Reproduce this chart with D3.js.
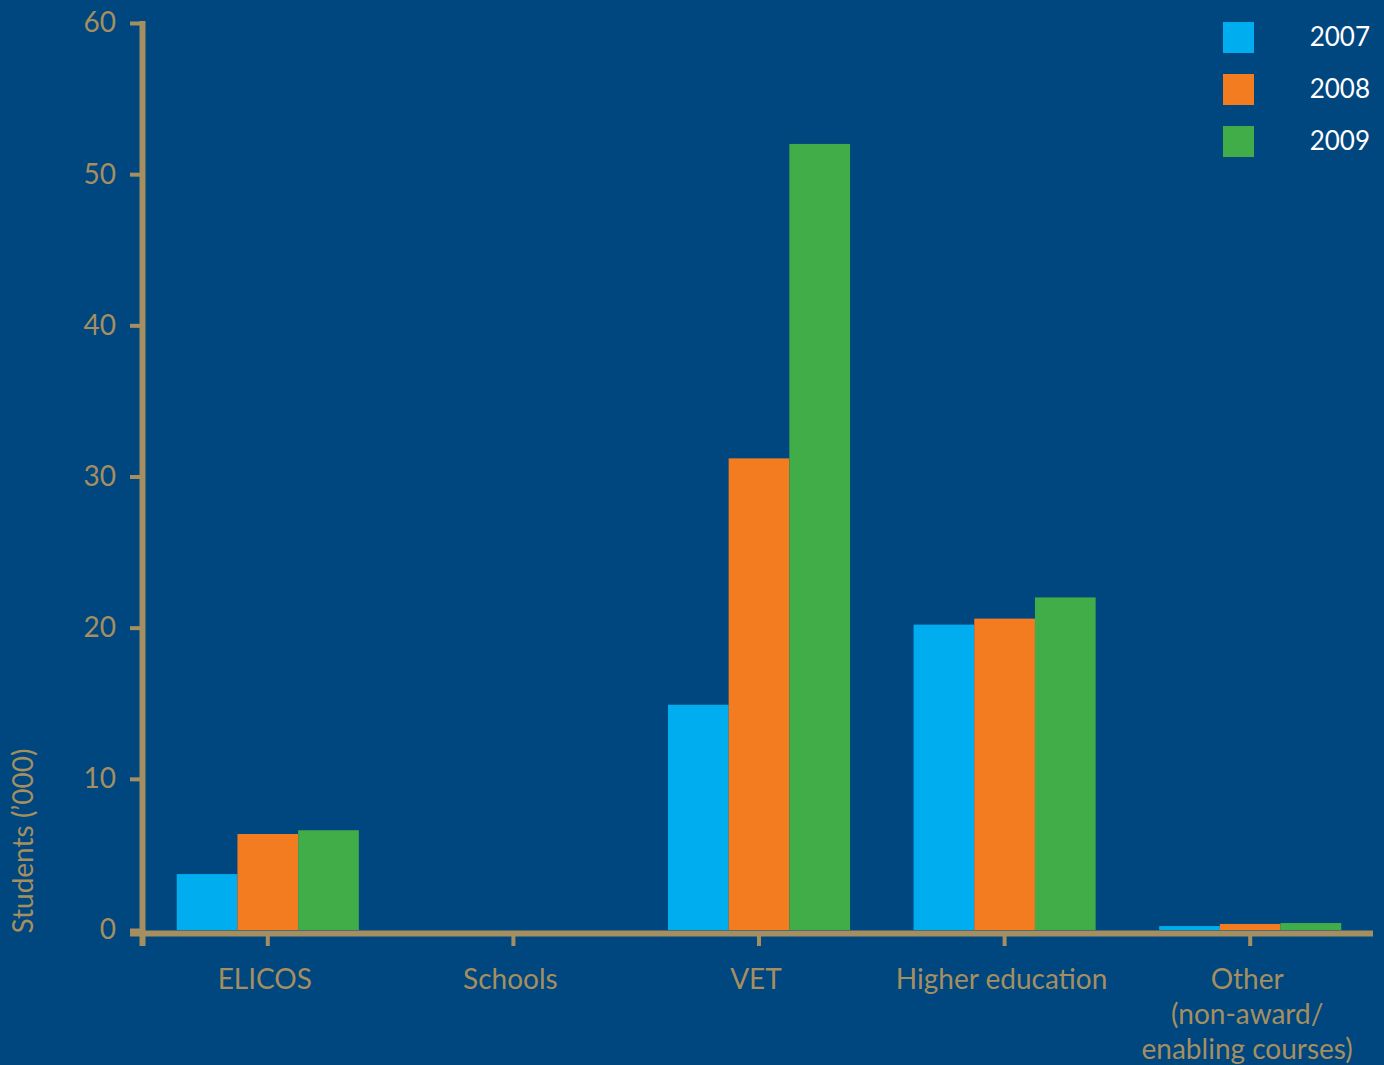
<!DOCTYPE html>
<html><head><meta charset="utf-8">
<script src="https://cdn.jsdelivr.net/npm/d3@7"></script>
<style>html,body{margin:0;padding:0;background:#00467f;}svg{display:block;}</style>
</head><body>
<script>
const categories = ["ELICOS", "Schools", "VET", "Higher education", "Other\n(non-award/\nenabling courses)"];
const years = ["2007", "2008", "2009"];
const values2007 = [3.7, 0, 14.9, 20.2, 0.26];
const values2008 = [6.35, 0, 31.2, 20.6, 0.4];
const values2009 = [6.6, 0, 52.0, 22.0, 0.46];
const yTicks = [0, 10, 20, 30, 40, 50, 60];
const colors = ["#00aeef", "#f47c20", "#41ad49"];
const series = [values2007, values2008, values2009];

const W = 1384, H = 1065;
const tan = "#a58f60";
const font = "Lato, 'Open Sans', sans-serif";
const svg = d3.select("body").append("svg").attr("width", W).attr("height", H);
svg.append("rect").attr("width", W).attr("height", H).attr("fill", "#00467f");

const y = d3.scaleLinear().domain([0, 60]).range([930, 23]);
const x0 = d3.scaleBand().domain(categories).range([145, 1373]).padding(0);
const x1 = d3.scaleBand().domain(years).range([0, x0.bandwidth()]).paddingInner(0).paddingOuter(0.523);
const color = d3.scaleOrdinal().domain(years).range(colors);

// bars
const g = svg.append("g");
categories.forEach((c, i) => {
  years.forEach((yr, j) => {
    const v = series[j][i];
    g.append("rect")
      .attr("x", x0(c) + x1(yr))
      .attr("width", x1.bandwidth())
      .attr("y", y(v))
      .attr("height", y(0) - y(v))
      .attr("fill", color(yr));
  });
});

// y axis
const yAxis = d3.axisLeft(y).tickValues(yTicks).tickSize(13).tickPadding(14);
const ya = svg.append("g").attr("transform", "translate(143,0)").call(yAxis);
ya.select(".domain").remove();
ya.selectAll(".tick line").attr("stroke", tan).attr("stroke-width", 4);
ya.selectAll(".tick text").attr("fill", tan).style("font-family", font).style("font-size", "28px");
svg.append("line").attr("x1", 142.5).attr("x2", 142.5).attr("y1", 21).attr("y2", 946)
  .attr("stroke", tan).attr("stroke-width", 6);

// x axis
const xAxis = d3.axisBottom(x0).tickSize(13).tickFormat("");
const xa = svg.append("g").attr("transform", "translate(0,933)").call(xAxis);
xa.select(".domain").remove();
xa.selectAll(".tick line").attr("stroke", tan).attr("stroke-width", 4);
svg.append("line").attr("x1", 130).attr("x2", 1373).attr("y1", 933.5).attr("y2", 933.5)
  .attr("stroke", tan).attr("stroke-width", 6);

// category labels
categories.forEach(c => {
  const lines = c.split("\n");
  const t = svg.append("text").attr("text-anchor", "middle")
    .attr("fill", tan).style("font-family", font).style("font-size", "28px");
  lines.forEach((l, k) => {
    t.append("tspan").attr("x", x0(c) + x0.bandwidth() / 2 - 3).attr("y", 989 + k * 35).text(l);
  });
});

// y title
svg.append("text").attr("transform", "translate(33,841) rotate(-90)")
  .attr("text-anchor", "middle").attr("fill", tan)
  .style("font-family", font).style("font-size", "28px").text("Students (\u2019000)");

// legend
years.forEach((yr, j) => {
  svg.append("rect").attr("x", 1223).attr("y", 22 + j * 52).attr("width", 31).attr("height", 31).attr("fill", color(yr));
  svg.append("text").attr("x", 1370).attr("y", 46 + j * 52).attr("text-anchor", "end")
    .attr("fill", "#ffffff").style("font-family", font).style("font-size", "26px").text(yr);
});
</script>
</body></html>
